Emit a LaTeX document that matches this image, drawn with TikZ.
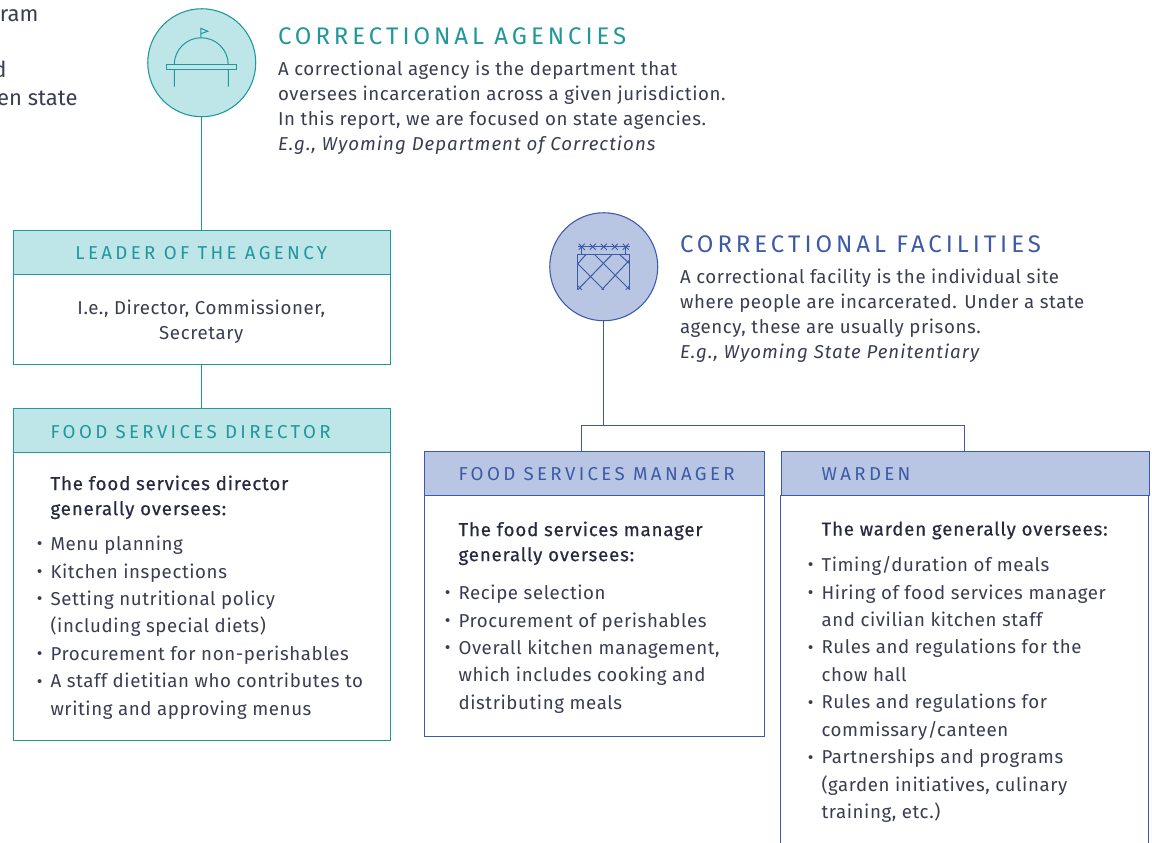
\documentclass[tikz,border=0pt]{standalone}
\usepackage{fontspec}
\setmainfont{Fira Sans}
\newfontfamily\bodyf[LetterSpace=3.2,Ligatures=NoCommon]{Fira Sans}
\newfontfamily\leadf[LetterSpace=4.5,Ligatures=NoCommon,FakeBold=0.5]{Fira Sans}
\newfontfamily\itf[LetterSpace=5.5,Ligatures=NoCommon,ItalicFont={* Italic}]{Fira Sans}
\newfontfamily\headf[LetterSpace=18,Ligatures=NoCommon]{Fira Sans}
\newfontfamily\bigf[LetterSpace=16.5,Ligatures=NoCommon]{Fira Sans}
\definecolor{teal}{HTML}{1F979B}
\definecolor{tealfill}{HTML}{BEE5E8}
\definecolor{blu}{HTML}{3C5AA6}
\definecolor{blufill}{HTML}{B8C6E4}
\definecolor{ink}{HTML}{3A3D52}
\definecolor{inkd}{HTML}{262940}
\newcommand{\bl}{\leavevmode\llap{\raisebox{0.5pt}{\fontsize{13}{13}\selectfont•}\hspace{6pt}}}
\newcommand{\eg}[1]{{\itf\itshape #1}}
\tikzset{
  x=0.75pt,y=-0.75pt,
  disc/.style={circle,draw,line width=0.8pt,minimum size=81pt,inner sep=0pt},
  hbox/.style={draw,line width=0.75pt,anchor=north west,inner sep=0pt},
  bodybox/.style={draw,line width=0.75pt,anchor=north west,inner sep=0pt},
  txt/.style={anchor=north west,inner sep=0pt,align=left,text=ink,font=\fontsize{14}{18.8}\selectfont\bodyf},
  ldt/.style={anchor=north west,inner sep=0pt,align=left,text=inkd,font=\fontsize{14}{18.8}\selectfont\leadf},
  lst/.style={anchor=north west,inner sep=0pt,align=left,text=ink,font=\fontsize{14}{20.6}\selectfont\bodyf},
  clipt/.style={anchor=base east,inner sep=0pt,text=ink,font=\fontsize{16.5}{18}\selectfont},
  htxt/.style={anchor=base west,inner sep=0pt,font=\fontsize{14}{17}\selectfont\headf},
  bigt/.style={anchor=base west,inner sep=0pt,font=\fontsize{18}{22}\selectfont\bigf},
  wire/.style={line width=0.85pt},
  icon/.style={line width=0.75pt},
}
\begin{document}
\begin{tikzpicture}
\useasboundingbox (0.25,0.25) rectangle (1152.25,842.25);
\clip (0.25,0.25) rectangle (1152.25,842.25);
% clipped text
\node[clipt] (c1) at (39,22) {ram};
\node[clipt] (c2) at (7,78) {d};
\node[clipt] (c3) at (78,106) {en state};
% agency
\node[disc,draw=teal,fill=tealfill] (agency) at (202,63) {};
\draw[icon,draw=teal,line join=round] (174.5,87) -- (174.5,65) arc (180:360:27) -- (228.5,87);
\draw[icon,draw=teal,fill=tealfill] (167,64.5) rectangle (237,69.5);
\draw[icon,draw=teal,fill=tealfill] (201,38) -- (201,28.5) -- (208,31.5) -- (201,34);
\node[bigt,text=teal] (agencyT) at (278,45) {CORRECTIONAL AGENCIES};
\node[txt] (agencyB) at (278,61) {A correctional agency is the department that\\oversees incarceration across a given jurisdiction.\\In this report, we are focused on state agencies.\\\eg{E.g., Wyoming Department of Corrections}};
% leader
\node[hbox,draw=teal,fill=tealfill,minimum width=282.75pt,minimum height=33pt] (leadH) at (13,230) {};
\node[bodybox,draw=teal,minimum width=282.75pt,minimum height=67.5pt] (leadB) at (13,274) {};
\node[htxt,text=teal,anchor=base] (leadT) at (201.5,260) {LEADER OF THE AGENCY};
\node[txt,align=center,anchor=north] (leadX) at (201.5,299.5) {I.e., Director, Commissioner,\\Secretary};
% director
\node[hbox,draw=teal,fill=tealfill,minimum width=282.75pt,minimum height=33pt] (dirH) at (13,408) {};
\node[bodybox,draw=teal,minimum width=282.75pt,minimum height=216pt] (dirB) at (13,452) {};
\node[htxt,text=teal] (dirT) at (50.5,439) {FOOD SERVICES DIRECTOR};
\node[ldt] (dirL) at (50.5,475.5) {The food services director\\generally oversees:};
\node[lst] (dirM) at (50.5,536) {\bl Menu planning\\\bl Kitchen inspections\\\bl Setting nutritional policy\\(including special diets)\\\bl Procurement for non-perishables\\\bl A staff dietitian who contributes to\\writing and approving menus};
% facilities
\node[disc,draw=blu,fill=blufill] (fac) at (604,267) {};
\begin{scope}[icon,draw=blu]
\draw (577.5,255) -- (577.5,290) (630,255) -- (630,290) (577.5,255) -- (630,255);
\draw (578,247) -- (630,247);
\draw (582,247) -- (582,255) (626,247) -- (626,255);
\foreach \x in {582,593,604,615,626}{\draw (\x-3,244) -- (\x+3,250) (\x-3,250) -- (\x+3,244);}
\draw (578,264) -- (586,255) (578,264) -- (604,290)
      (578,290) -- (612,255) (595,255) -- (630,290)
      (602,290) -- (630,260) (620,255) -- (630,264)
      (578,286) -- (582,290) (626,290) -- (630,286);
\end{scope}
\node[bigt,text=blu] (facT) at (680,253) {CORRECTIONAL FACILITIES};
\node[txt] (facB) at (680,269) {A correctional facility is the individual site\\where people are incarcerated. Under a state\\agency, these are usually prisons.\\\eg{E.g., Wyoming State Penitentiary}};
% manager
\node[hbox,draw=blu,fill=blufill,minimum width=255pt,minimum height=33pt] (manH) at (424,451) {};
\node[bodybox,draw=blu,minimum width=255pt,minimum height=180.75pt] (manB) at (424,495) {};
\node[htxt,text=blu] (manT) at (458.5,481) {FOOD SERVICES MANAGER};
\node[ldt] (manL) at (458.5,521.5) {The food services manager\\generally oversees:};
\node[lst] (manM) at (458.5,585) {\bl Recipe selection\\\bl Procurement of perishables\\\bl Overall kitchen management,\\which includes cooking and\\distributing meals};
% warden
\node[hbox,draw=blu,fill=blufill,minimum width=276pt,minimum height=33pt] (warH) at (781,451) {};
\coordinate (wl) at (781,495); \coordinate (wr) at (1149,495);
\coordinate (wlb) at (781,843); \coordinate (wrb) at (1149,843);
\draw[wire,draw=blu] (wl) -- (wlb) (wr) -- (wrb);
\node[htxt,text=blu] (warT) at (821.5,481) {WARDEN};
\node[ldt] (warL) at (821.5,521.5) {The warden generally oversees:};
\node[lst] (warM) at (821.5,556.5) {\bl Timing/duration of meals\\\bl Hiring of food services manager\\and civilian kitchen staff\\\bl Rules and regulations for the\\chow hall\\\bl Rules and regulations for\\commissary/canteen\\\bl Partnerships and programs\\(garden initiatives, culinary\\training, etc.)};
% connectors
\draw[wire,draw=teal] (agency.south) -- (leadH.north -| agency.south);
\draw[wire,draw=teal] (leadB.south) -- (dirH.north);
\coordinate (jn) at (604,426);
\draw[wire,draw=blu] (fac.south) -- (jn);
\coordinate (manTop) at (582,451); \coordinate (warTop) at (965,451);
\draw[wire,draw=blu] (manTop) |- (jn) -| (warTop);
\end{tikzpicture}
\end{document}
